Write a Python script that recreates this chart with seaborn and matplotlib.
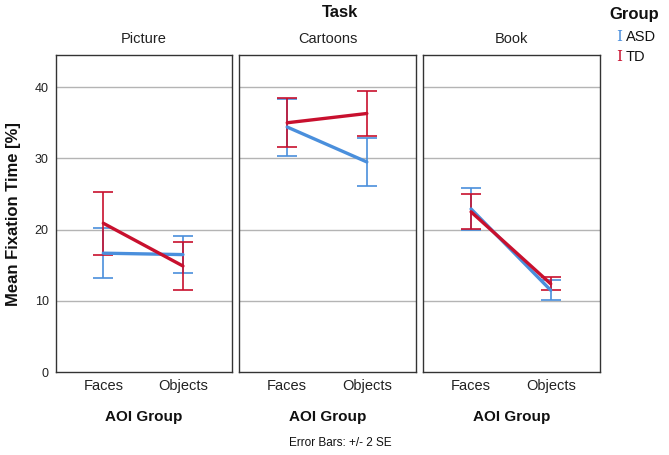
import pandas as pd
import seaborn as sns
import matplotlib.pyplot as plt

# values (mean fixation time in %, +/- 2 SE)
tasks = ['Picture', 'Cartoons', 'Book']
aoi = ['Faces', 'Objects']
groups = ['ASD', 'TD']

asd_mean = [16.7, 16.5, 34.4, 29.5, 22.9, 11.5]
asd_err = [3.5, 2.6, 4.0, 3.4, 2.9, 1.4]
td_mean = [20.9, 14.9, 35.0, 36.3, 22.5, 12.4]
td_err = [4.4, 3.3, 3.45, 3.2, 2.45, 0.9]

colors = {'ASD': '#4a8fdc', 'TD': '#c8102e'}

rows = []
for g, means, errs in [('ASD', asd_mean, asd_err), ('TD', td_mean, td_err)]:
    i = 0
    for t in tasks:
        for a in aoi:
            rows.append({'Task': t, 'AOI Group': a, 'x': aoi.index(a),
                         'Group': g, 'mean': means[i], 'err': errs[i]})
            i += 1
df = pd.DataFrame(rows)

sns.set_style('white')
plt.rcParams['font.family'] = ['Liberation Sans', 'DejaVu Sans']
plt.rcParams['text.color'] = '#111111'

fig, axes = plt.subplots(1, 3, figsize=(6.69, 4.55), dpi=100, sharey=True)
fig.subplots_adjust(left=0.083, right=0.897, top=0.879, bottom=0.182, wspace=0.04)

for ax, t in zip(axes, tasks):
    sub = df[df['Task'] == t]
    for g in groups:
        d = sub[sub['Group'] == g]
        ax.errorbar(d['x'], d['mean'], yerr=d['err'], fmt='none',
                    ecolor=colors[g], elinewidth=1.2, capsize=7, capthick=1.2, zorder=3)
    sns.lineplot(data=sub, x='x', y='mean', hue='Group', palette=colors,
                 hue_order=groups, linewidth=2.4, ax=ax, legend=False, zorder=4)
    ax.set_xlim(-0.6, 1.62)
    ax.set_ylim(0, 44.5)
    ax.set_yticks([0, 10, 20, 30, 40])
    for yv in [10, 20, 30, 40]:
        ax.axhline(yv, color='#b4b4b4', lw=1, zorder=1)
    ax.set_xticks([0, 1])
    ax.set_xticklabels(aoi, fontsize=10.5, color='#222222')
    ax.tick_params(axis='both', length=0, pad=5)
    ax.set_xlabel('AOI Group', fontsize=11, fontweight='bold', labelpad=12, color='#111111')
    ax.set_ylabel('')
    ax.set_title(t, fontsize=10.5, pad=9, color='#222222')
    for s in ax.spines.values():
        s.set_color('#333333')
        s.set_linewidth(1)

axes[0].tick_params(axis='y', labelsize=9, colors='#222222')
axes[0].set_ylabel('Mean Fixation Time [%]', fontsize=12, fontweight='bold',
                   labelpad=10, color='#111111')

fig.text(0.508, 0.972, 'Task', ha='center', va='center', fontsize=12, fontweight='bold')
fig.text(0.948, 0.968, 'Group', ha='center', va='center', fontsize=12, fontweight='bold')
fig.text(0.925, 0.918, 'I', color=colors['ASD'], ha='center', va='center',
         fontsize=11, family='DejaVu Serif')
fig.text(0.935, 0.918, 'ASD', ha='left', va='center', fontsize=10.5)
fig.text(0.925, 0.875, 'I', color=colors['TD'], ha='center', va='center',
         fontsize=11, family='DejaVu Serif')
fig.text(0.935, 0.875, 'TD', ha='left', va='center', fontsize=10.5)
fig.text(0.508, 0.027, 'Error Bars: +/- 2 SE', ha='center', va='center', fontsize=8.5)

plt.savefig('out.png', dpi=100)
